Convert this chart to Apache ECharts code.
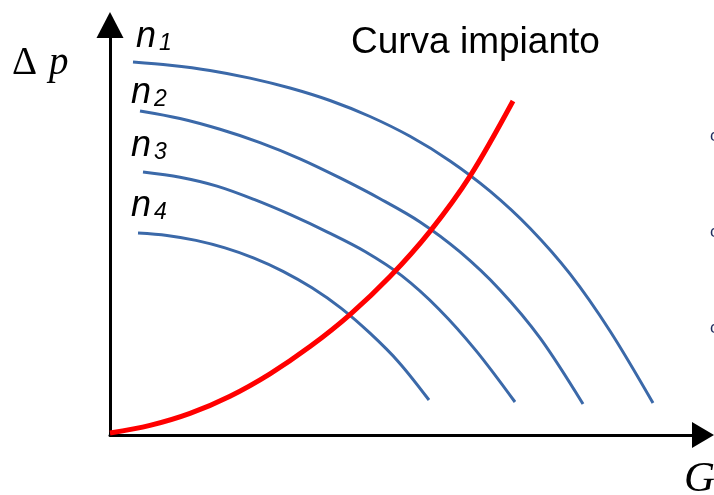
<!DOCTYPE html>
<html>
<head>
<meta charset="utf-8">
<script src="https://cdn.jsdelivr.net/npm/echarts@6/dist/echarts.min.js"></script>
<style>
    html, body { margin: 0; padding: 0; background: #ffffff; }
    #curvePompa { width: 714px; height: 495px; }
</style>
</head>
<body>
<div id="curvePompa"></div>
<script>
    // portata G (asse x) e prevalenza dp (asse y)
    var g1 = [23, 60, 100, 140, 180, 220, 260, 300, 340, 380, 420, 460, 500, 543];
    var dp1 = [373, 369.8, 364.6, 356.9, 347, 334.5, 318.5, 298.7, 274.1, 243.9, 206.8, 161.1, 104, 32];

    var g2 = [30, 70, 110, 150, 190, 230, 270, 310, 350, 390, 430, 473];
    var dp2 = [324, 316.5, 305.7, 292.4, 276.2, 257.1, 236.3, 213.1, 183.1, 145.1, 97.1, 31];

    var g3 = [33, 70, 107, 144, 181, 218, 255, 292, 329, 366, 405];
    var dp3 = [263, 257.8, 248.9, 235.6, 220.1, 202.7, 183.5, 159.1, 125.8, 84.4, 33];

    var g4 = [28, 57, 86, 115, 144, 173, 202, 231, 260, 289, 319];
    var dp4 = [202, 199.6, 194.6, 187.1, 176.9, 163.7, 147.2, 126.9, 101.8, 72.6, 35];

    // curva impianto
    var gImp = [0, 40, 80, 120, 160, 200, 240, 280, 320, 360, 403];
    var dpImp = [2, 9.6, 21.6, 38.8, 61.2, 88.4, 120.4, 158.4, 203.6, 258.8, 334];

    var nomi = ['1', '2', '3', '4'];

    function coppie(xs, ys) {
        var out = [];
        for (var i = 0; i < xs.length; i++) {
            out.push([xs[i], ys[i]]);
        }
        return out;
    }

    function curva(xs, ys, colore, spessore) {
        return {
            type: 'line',
            data: coppie(xs, ys),
            smooth: 0.33,
            showSymbol: false,
            silent: true,
            lineStyle: { color: colore, width: spessore }
        };
    }

    // etichette n con pedice
    var etichette = [];
    var posN = [[136, 36.5], [131, 92.5], [131, 145.5], [131, 205.5]];
    for (var i = 0; i < nomi.length; i++) {
        etichette.push({
            type: 'text', x: posN[i][0], y: posN[i][1],
            style: { text: 'n', font: 'italic 36px "Liberation Sans"', fill: '#000', verticalAlign: 'middle' }
        });
        etichette.push({
            type: 'text', x: posN[i][0] + 23, y: posN[i][1] + 7,
            style: { text: nomi[i], font: 'italic 23px "Liberation Sans"', fill: '#000', verticalAlign: 'middle' }
        });
    }

    var myChart = echarts.init(document.getElementById('curvePompa'));
    myChart.setOption({
        animation: false,
        grid: { left: 110, right: 11, top: 25, bottom: 60 },
        xAxis: {
            type: 'value', min: 0, max: 593,
            axisLine: {
                onZero: false,
                symbol: ['none', 'triangle'],
                symbolSize: [26, 22],
                lineStyle: { color: '#000', width: 3 }
            },
            axisTick: { show: false },
            axisLabel: { show: false },
            splitLine: { show: false }
        },
        yAxis: {
            type: 'value', min: 0, max: 410,
            axisLine: {
                show: true,
                onZero: false,
                symbol: ['none', 'triangle'],
                symbolSize: [27, 26],
                lineStyle: { color: '#000', width: 3 }
            },
            axisTick: { show: false },
            axisLabel: { show: false },
            splitLine: { show: false }
        },
        series: [
            curva(g1, dp1, '#3b69a9', 3),
            curva(g2, dp2, '#3b69a9', 3),
            curva(g3, dp3, '#3b69a9', 3),
            curva(g4, dp4, '#3b69a9', 3),
            curva(gImp, dpImp, '#ff0000', 5)
        ],
        graphic: etichette.concat([
            {
                type: 'text', x: 12, y: 63.5,
                style: { text: 'Δ', font: '39px "Liberation Serif"', fill: '#000', verticalAlign: 'middle' }
            },
            {
                type: 'text', x: 49, y: 63.5,
                style: { text: 'p', font: 'italic 39px "Liberation Serif"', fill: '#000', verticalAlign: 'middle' }
            },
            {
                type: 'text', x: 684, y: 480,
                style: { text: 'G', font: 'italic 43px "Liberation Serif"', fill: '#000', verticalAlign: 'middle' }
            },
            {
                type: 'text', x: 351, y: 42.7,
                style: { text: 'Curva impianto', font: '37px "Liberation Sans"', fill: '#000', verticalAlign: 'middle' }
            },
            {
                type: 'text', x: 710, y: 136,
                style: { text: 'c', font: '17px "Liberation Sans"', fill: '#1f2a5c', verticalAlign: 'middle' }
            },
            {
                type: 'text', x: 710, y: 232,
                style: { text: 'c', font: '17px "Liberation Sans"', fill: '#1f2a5c', verticalAlign: 'middle' }
            },
            {
                type: 'text', x: 710, y: 328,
                style: { text: 'c', font: '17px "Liberation Sans"', fill: '#1f2a5c', verticalAlign: 'middle' }
            }
        ])
    });
</script>
</body>
</html>
